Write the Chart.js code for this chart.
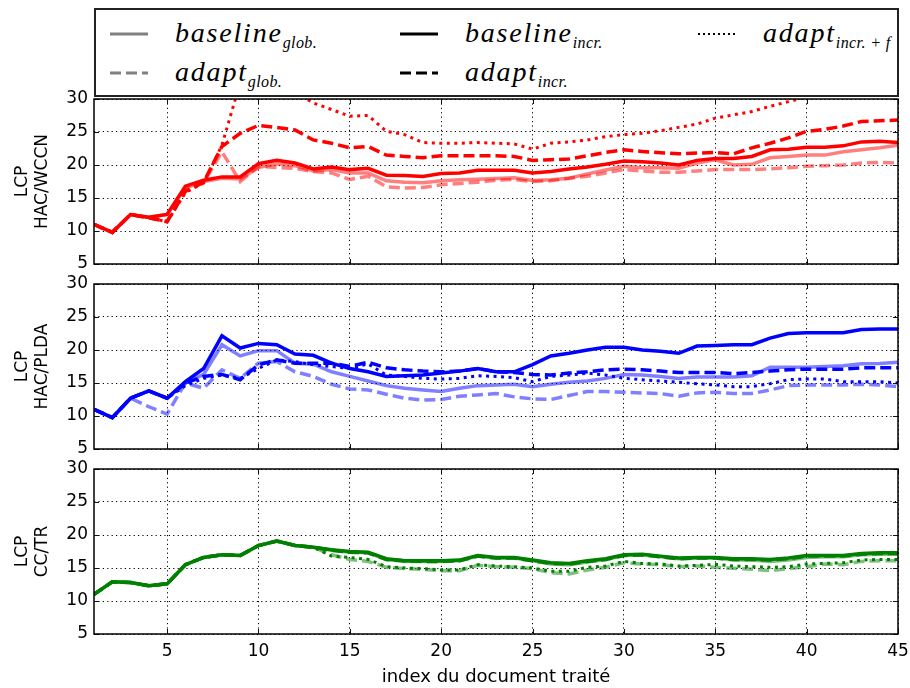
<!DOCTYPE html>
<html>
<head>
<meta charset="utf-8">
<script src="https://cdn.jsdelivr.net/npm/chart.js@4.4.0/dist/chart.umd.min.js"></script>
<style>
  body { margin: 0; background: #fff; }
  #page { position: relative; width: 910px; height: 688px; overflow: hidden; }
  .panel { position: absolute; left: 0; width: 910px; }
  #legend {
    position: absolute; left: 94px; top: 8px; width: 805px; height: 89px;
    box-sizing: border-box; border: 2px solid #222;
  }
  .item { position: absolute; height: 30px; display: flex; align-items: center; }
  .item svg { width: 38px; height: 30px; margin-right: 27px; }
  .item span {
    font-family: 'Liberation Serif', serif; font-style: italic;
    font-size: 28px; letter-spacing: 1.8px; color: #000; white-space: nowrap;
  }
  .item sub { font-size: 16px; letter-spacing: 0.4px; vertical-align: -6px; }
</style>
</head>
<body>
<div id="page">
  <div id="legend"></div>
  <canvas id="chartWccn" class="panel" width="910" height="180" style="top:90px"></canvas>
  <canvas id="chartPlda" class="panel" width="910" height="180" style="top:275px"></canvas>
  <canvas id="chartCctr" class="panel" width="910" height="228" style="top:460px"></canvas>
</div>
<script>
// LCP along the processed documents, three systems, five configurations each

const DOC_INDEX = [1, 2, 3, 4, 5, 6, 7, 8, 9, 10, 11, 12, 13, 14, 15, 16, 17, 18, 19, 20,
  21, 22, 23, 24, 25, 26, 27, 28, 29, 30, 31, 32, 33, 34, 35, 36, 37, 38, 39, 40,
  41, 42, 43, 44, 45];
const X_TICKS = [5, 10, 15, 20, 25, 30, 35, 40, 45];
const Y_TICKS = [5, 10, 15, 20, 25, 30];

const SERIES_NAMES = ['baseline', 'adapt', 'baseline', 'adapt', 'adapt'];
const SERIES_SUBS = ['glob.', 'glob.', 'incr.', 'incr.', 'incr. + f'];

// HAC/WCCN
const wccnBaselineGlob = [11.0, 9.8, 12.5, 12.1, 12.5, 16.5, 17.5, 18.0, 17.9, 19.6, 20.2, 19.9, 19.1, 19.3, 18.8,
  18.8, 17.6, 17.4, 17.3, 17.6, 17.75, 17.85, 17.95, 18.05, 17.65, 17.75, 18.0, 18.65, 19.25, 19.8,
  19.6, 19.6, 19.5, 20.3, 20.8, 20.0, 20.1, 21.1, 21.3, 21.5, 21.5, 22.0, 22.3, 22.6, 23.0];
const wccnAdaptGlob = [11.0, 9.8, 12.5, 12.0, 11.5, 16.2, 17.3, 22.0, 17.5, 19.8, 19.6, 19.5, 19.0, 18.8, 17.8,
  18.3, 16.7, 16.5, 16.6, 17.0, 17.2, 17.4, 17.7, 17.8, 17.5, 17.6, 18.0, 18.3, 18.8, 19.3,
  19.1, 18.9, 18.9, 19.1, 19.3, 19.3, 19.3, 19.4, 19.6, 19.8, 19.9, 20.0, 20.3, 20.4, 20.3];
const wccnBaselineIncr = [11.0, 9.8, 12.5, 12.1, 12.5, 16.8, 17.7, 18.2, 18.2, 20.2, 20.7, 20.3, 19.4, 19.7, 19.3,
  19.5, 18.45, 18.4, 18.25, 18.7, 18.8, 19.2, 19.2, 19.2, 18.8, 19.0, 19.4, 19.7, 20.1, 20.6,
  20.5, 20.3, 20.0, 20.7, 21.0, 21.0, 21.3, 22.3, 22.4, 22.7, 22.7, 22.9, 23.5, 23.6, 23.4];
const wccnAdaptIncr = [11.0, 9.8, 12.5, 12.0, 11.4, 16.0, 17.4, 22.8, 24.8, 26.0, 25.7, 25.3, 23.8, 23.3, 22.6,
  22.8, 21.5, 21.3, 21.1, 21.4, 21.4, 21.4, 21.4, 21.3, 20.7, 20.8, 20.9, 21.4, 21.9, 22.3,
  22.05, 21.85, 21.7, 21.8, 21.9, 21.7, 22.6, 23.3, 24.1, 25.1, 25.4, 25.9, 26.6, 26.7, 26.8];
const wccnAdaptIncrF = [11.0, 9.8, 12.5, 12.0, 11.4, 15.8, 17.3, 23.0, 32.5, 34.0, 33.0, 31.0, 29.4, 28.4, 27.4,
  27.5, 25.1, 24.6, 23.4, 23.3, 23.3, 23.4, 23.3, 23.2, 22.4, 23.3, 23.5, 23.8, 24.3, 24.6,
  24.8, 25.2, 25.7, 26.2, 27.1, 27.6, 28.1, 28.9, 29.6, 30.3, 31.0, 31.5, 32.0, 32.5, 33.0];

// HAC/PLDA
const pldaBaselineGlob = [11.0, 9.75, 12.7, 13.8, 12.7, 15.0, 16.3, 20.8, 19.1, 19.9, 19.9, 18.0, 17.85, 16.7, 16.0,
  15.3, 14.6, 14.2, 13.95, 13.7, 14.2, 14.6, 14.7, 14.8, 14.45, 14.8, 15.1, 15.3, 15.7, 16.3,
  16.2, 16.0, 15.7, 15.9, 15.9, 15.9, 16.1, 17.4, 17.4, 17.4, 17.5, 17.6, 17.9, 17.95, 18.15];
const pldaAdaptGlob = [11.0, 9.75, 12.7, 11.4, 10.3, 15.0, 14.2, 17.0, 15.7, 18.0, 18.25, 16.7, 16.0, 14.8, 14.1,
  13.95, 13.3, 12.7, 12.4, 12.5, 13.0, 13.2, 13.4, 12.9, 12.6, 12.5, 13.1, 13.7, 13.7, 13.6,
  13.5, 13.4, 13.0, 13.5, 13.6, 13.4, 13.4, 13.95, 14.6, 14.7, 14.7, 14.7, 14.8, 14.7, 14.45];
const pldaBaselineIncr = [11.0, 9.75, 12.7, 13.8, 12.7, 15.2, 17.2, 22.15, 20.3, 21.0, 20.8, 19.4, 19.2, 18.0, 17.2,
  16.7, 16.0, 16.1, 16.2, 16.5, 16.8, 17.2, 16.7, 16.7, 17.8, 19.1, 19.5, 20.0, 20.4, 20.4,
  20.0, 19.8, 19.5, 20.6, 20.7, 20.8, 20.8, 21.8, 22.5, 22.6, 22.6, 22.6, 23.1, 23.2, 23.2];
const pldaAdaptIncr = [11.0, 9.75, 12.7, 13.8, 12.7, 15.0, 16.0, 16.3, 15.5, 17.75, 18.5, 18.0, 18.0, 18.0, 17.5,
  18.15, 17.3, 17.0, 16.8, 16.7, 16.8, 17.2, 16.7, 16.6, 16.3, 16.2, 16.5, 16.7, 17.0, 17.1,
  17.0, 16.8, 16.6, 16.6, 16.6, 16.4, 16.6, 16.8, 17.0, 17.1, 17.1, 17.1, 17.3, 17.3, 17.3];
const pldaAdaptIncrF = [11.0, 9.75, 12.7, 13.8, 12.7, 14.6, 15.7, 16.2, 15.7, 17.2, 18.5, 18.25, 17.75, 17.5, 17.2,
  17.9, 16.2, 16.0, 15.7, 15.6, 15.7, 16.1, 16.0, 15.8, 15.2, 16.0, 16.2, 16.5, 16.2, 15.7,
  15.5, 15.3, 15.1, 14.9, 14.7, 14.45, 14.45, 14.9, 15.5, 15.6, 15.6, 15.2, 15.2, 15.2, 15.0];

// CC/TR
const cctrBaselineGlob = [11.0, 12.9, 12.8, 12.3, 12.6, 15.5, 16.6, 17.0, 16.9, 18.4, 19.1, 18.4, 18.15, 17.7, 17.4,
  17.3, 16.3, 16.0, 16.0, 16.0, 16.1, 16.8, 16.5, 16.5, 16.1, 15.6, 15.5, 15.9, 16.3, 16.9,
  17.0, 16.7, 16.4, 16.5, 16.5, 16.2, 16.2, 16.0, 16.2, 16.6, 16.7, 16.7, 17.0, 17.1, 17.1];
const cctrAdaptGlob = [11.0, 12.9, 12.8, 12.3, 12.6, 15.5, 16.6, 17.0, 16.9, 18.4, 19.1, 18.4, 18.15, 17.0, 16.3,
  16.0, 15.1, 14.9, 14.8, 14.6, 14.6, 15.4, 15.2, 15.1, 14.9, 14.3, 14.1, 14.7, 15.1, 15.8,
  15.6, 15.5, 15.2, 15.3, 15.1, 14.95, 14.8, 14.6, 14.9, 15.2, 15.6, 15.5, 16.0, 16.1, 16.1];
const cctrBaselineIncr = [11.0, 12.9, 12.8, 12.3, 12.6, 15.5, 16.6, 17.0, 16.9, 18.4, 19.1, 18.4, 18.15, 17.75, 17.5,
  17.4, 16.4, 16.1, 16.1, 16.1, 16.2, 16.9, 16.6, 16.6, 16.2, 15.8, 15.7, 16.1, 16.4, 17.0,
  17.1, 16.8, 16.5, 16.6, 16.6, 16.4, 16.4, 16.3, 16.5, 16.9, 16.9, 16.9, 17.2, 17.3, 17.3];
const cctrAdaptIncr = [11.0, 12.9, 12.8, 12.3, 12.6, 15.5, 16.6, 17.0, 16.9, 18.4, 19.1, 18.4, 18.15, 17.7, 17.4,
  17.3, 16.3, 16.1, 16.0, 16.0, 16.1, 16.8, 16.5, 16.5, 16.1, 15.7, 15.6, 16.0, 16.3, 16.9,
  17.0, 16.7, 16.4, 16.5, 16.5, 16.3, 16.3, 16.2, 16.4, 16.8, 16.8, 16.8, 17.1, 17.2, 17.2];
const cctrAdaptIncrF = [11.0, 12.9, 12.8, 12.3, 12.6, 15.5, 16.6, 17.0, 16.9, 18.4, 19.1, 18.4, 18.15, 16.8, 16.6,
  16.3, 15.2, 15.0, 14.9, 14.7, 14.7, 15.5, 15.3, 15.2, 15.0, 14.5, 14.5, 15.1, 15.3, 16.0,
  15.7, 15.6, 15.3, 15.4, 15.55, 15.3, 15.2, 15.1, 15.2, 15.6, 15.7, 15.8, 16.2, 16.3, 16.3];

const SOLID = [];
const DASHED = [11, 5];
const DOTTED = [3, 4.5];

// stroke style for each of the five configurations (same order as SERIES_NAMES)
const STYLES = [
  { light: true, dash: SOLID, width: 3.5 },
  { light: true, dash: DASHED, width: 3.5 },
  { light: false, dash: SOLID, width: 3.5 },
  { light: false, dash: DASHED, width: 3.5 },
  { light: false, dash: DOTTED, width: 3 }
];

// ---- legend (html, so subscripts stay real text) ----
const legendPos = [[14, 24], [14, 63], [304, 24], [304, 63], [602, 24]];
const legend = document.getElementById('legend');
SERIES_NAMES.forEach((name, i) => {
    const st = STYLES[i];
    const col = st.light ? '#808080' : '#000';
    const item = document.createElement('div');
    item.className = 'item';
    item.style.left = legendPos[i][0] + 'px';
    item.style.top = (legendPos[i][1] - 15) + 'px';
    const w = st.dash === DOTTED ? 2 : 3;
    const dashAttr = st.dash === DOTTED ? '2 3' : (st.dash === DASHED ? '11 5' : 'none');
    item.innerHTML =
        `<svg viewBox="0 0 38 30"><line x1="0" y1="15" x2="38" y2="15" stroke="${col}" ` +
        `stroke-width="${w}" stroke-dasharray="${dashAttr}"/></svg>` +
        `<span>${name}<sub>${SERIES_SUBS[i]}</sub></span>`;
    legend.appendChild(item);
});

// ---- frame + inward ticks, like the original axes box ----
const framePlugin = {
    id: 'frame',
    afterDraw(chart) {
        const { ctx, chartArea: a, scales } = chart;
        ctx.save();
        ctx.strokeStyle = '#111';
        ctx.lineWidth = 1;
        ctx.beginPath();
        X_TICKS.forEach(v => {
            const px = Math.round(scales.x.getPixelForValue(v)) + 0.5;
            ctx.moveTo(px, a.bottom); ctx.lineTo(px, a.bottom - 5);
            ctx.moveTo(px, a.top); ctx.lineTo(px, a.top + 5);
        });
        Y_TICKS.forEach(v => {
            const py = Math.round(scales.y.getPixelForValue(v)) + 0.5;
            ctx.moveTo(a.left, py); ctx.lineTo(a.left + 5, py);
            ctx.moveTo(a.right, py); ctx.lineTo(a.right - 5, py);
        });
        ctx.stroke();
        ctx.lineWidth = 1.5;
        ctx.strokeStyle = '#000';
        ctx.strokeRect(a.left, a.top, a.right - a.left, a.bottom - a.top);
        ctx.restore();
    }
};

const TICK_FONT = { family: 'DejaVu Sans', size: 17 };

function buildDatasets(seriesList, rgb) {
    const sets = seriesList.map((vals, i) => ({
        data: vals.map((v, k) => ({ x: DOC_INDEX[k], y: v })),
        borderColor: STYLES[i].light ? `rgba(${rgb},0.5)` : `rgb(${rgb})`,
        borderDash: STYLES[i].dash,
        borderWidth: STYLES[i].width,
        pointRadius: 0,
        tension: 0,
        fill: false,
        clip: 0
    }));
    // first dataset is painted last in Chart.js, so put incr.+f on top
    return sets.reverse();
}

function makeChart(id, seriesList, rgb, axisTitle, showX) {
    const ctx = document.getElementById(id).getContext('2d');
    return new Chart(ctx, {
        type: 'line',
        data: { datasets: buildDatasets(seriesList, rgb) },
        options: {
            animation: false,
            responsive: false,
            events: [],
            layout: { padding: { top: 9, right: 12, left: 0, bottom: 0 } },
            plugins: { legend: { display: false }, tooltip: { enabled: false } },
            scales: {
                x: {
                    type: 'linear',
                    min: 1,
                    max: 45,
                    afterBuildTicks: s => { s.ticks = X_TICKS.map(v => ({ value: v })); },
                    afterFit: s => { s.height = showX ? 54 : 6; s.paddingLeft = 0; s.paddingRight = 0; },
                    grid: { color: '#000', lineWidth: 1, drawTicks: false },
                    border: { display: false, dash: [1.2, 3.2] },
                    ticks: { display: showX, color: '#000', font: TICK_FONT, padding: 7, maxRotation: 0 },
                    title: {
                        display: showX,
                        text: 'index du document traité',
                        color: '#000',
                        font: { family: 'DejaVu Sans', size: 18 },
                        padding: { top: 0, bottom: 0 }
                    }
                },
                y: {
                    min: 5,
                    max: 30,
                    afterBuildTicks: s => { s.ticks = Y_TICKS.map(v => ({ value: v })); },
                    // fixed width, and no extra room for the half-height end labels
                    afterFit: s => { s.width = 94; s.paddingTop = 0; s.paddingBottom = 0; },
                    grid: { color: '#000', lineWidth: 1, drawTicks: false },
                    border: { display: false, dash: [1.2, 3.2] },
                    ticks: { color: '#000', font: TICK_FONT, padding: 6 },
                    title: {
                        display: true,
                        text: axisTitle,
                        color: '#000',
                        font: { family: 'DejaVu Sans', size: 17 },
                        padding: { top: 12, bottom: 0 }
                    }
                }
            }
        },
        plugins: [framePlugin]
    });
}

makeChart('chartWccn',
    [wccnBaselineGlob, wccnAdaptGlob, wccnBaselineIncr, wccnAdaptIncr, wccnAdaptIncrF],
    '255,0,0', ['LCP', 'HAC/WCCN'], false);
makeChart('chartPlda',
    [pldaBaselineGlob, pldaAdaptGlob, pldaBaselineIncr, pldaAdaptIncr, pldaAdaptIncrF],
    '0,0,255', ['LCP', 'HAC/PLDA'], false);
makeChart('chartCctr',
    [cctrBaselineGlob, cctrAdaptGlob, cctrBaselineIncr, cctrAdaptIncr, cctrAdaptIncrF],
    '0,128,0', ['LCP', 'CC/TR'], true);
</script>
</body>
</html>
